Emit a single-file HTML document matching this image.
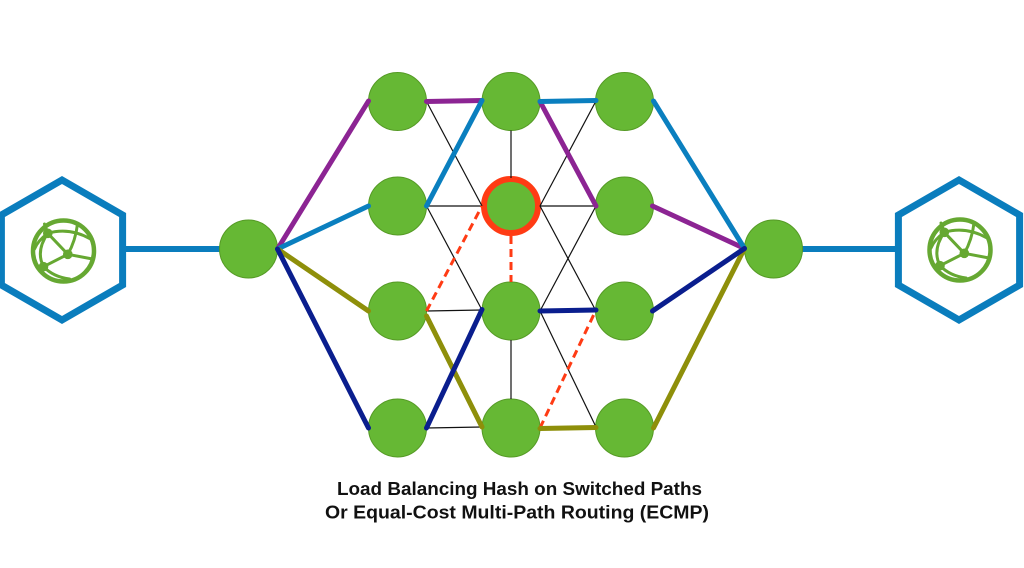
<!DOCTYPE html>
<html>
<head>
<meta charset="utf-8">
<style>
html,body{margin:0;padding:0;background:#fff;}
body{width:1024px;height:568px;overflow:hidden;}
svg{display:block;}
</style>
</head>
<body>
<svg width="1024" height="568" viewBox="0 0 1024 568" xmlns="http://www.w3.org/2000/svg">
<rect width="1024" height="568" fill="#ffffff"/>

<!-- hexagons -->
<g fill="none" stroke="#0a7dbd" stroke-width="7" stroke-linejoin="miter">
  <polygon points="62,180 122.6,215 122.6,285 62,320 1.4,285 1.4,215"/>
  <polygon points="959,180 1019.6,215 1019.6,285 959,320 898.4,285 898.4,215"/>
</g>

<!-- globe icons -->
<g transform="translate(63.5,251)">
  <g fill="none" stroke="#66a832" stroke-linecap="round">
    <circle cx="0" cy="0" r="30.5" stroke-width="4.5"/>
    <path d="M-15.7,-17.7 L-19,-27" stroke-width="3"/>
    <path d="M-15.7,-17.7 Q6,-24 27,-12" stroke-width="3"/>
    <path d="M-15.7,-17.7 L4.3,3.3" stroke-width="3"/>
    <path d="M-15.7,-17.7 Q-26,-10 -29,-2" stroke-width="3"/>
    <path d="M4.3,3.3 Q12,-10 14,-27" stroke-width="3"/>
    <path d="M4.3,3.3 L29,8" stroke-width="3"/>
    <path d="M4.3,3.3 L-20,15.7" stroke-width="3"/>
    <path d="M-20,15.7 Q-10,26 6,28" stroke-width="3"/>
    <path d="M-15.7,-17.7 Q-28,0 -20,15.7" stroke-width="3"/>
  </g>
  <g fill="#66a832">
    <circle cx="-15.7" cy="-17.7" r="4.8"/>
    <circle cx="4.3" cy="3.3" r="4.8"/>
    <circle cx="-20" cy="15.7" r="4.8"/>
  </g>
</g>
<g transform="translate(960,250)">
  <g fill="none" stroke="#66a832" stroke-linecap="round">
    <circle cx="0" cy="0" r="30.5" stroke-width="4.5"/>
    <path d="M-15.7,-17.7 L-19,-27" stroke-width="3"/>
    <path d="M-15.7,-17.7 Q6,-24 27,-12" stroke-width="3"/>
    <path d="M-15.7,-17.7 L4.3,3.3" stroke-width="3"/>
    <path d="M-15.7,-17.7 Q-26,-10 -29,-2" stroke-width="3"/>
    <path d="M4.3,3.3 Q12,-10 14,-27" stroke-width="3"/>
    <path d="M4.3,3.3 L29,8" stroke-width="3"/>
    <path d="M4.3,3.3 L-20,15.7" stroke-width="3"/>
    <path d="M-20,15.7 Q-10,26 6,28" stroke-width="3"/>
    <path d="M-15.7,-17.7 Q-28,0 -20,15.7" stroke-width="3"/>
  </g>
  <g fill="#66a832">
    <circle cx="-15.7" cy="-17.7" r="4.8"/>
    <circle cx="4.3" cy="3.3" r="4.8"/>
    <circle cx="-20" cy="15.7" r="4.8"/>
  </g>
</g>

<!-- hex to node connectors -->
<g stroke="#0a7dbd" stroke-width="6">
  <line x1="126" y1="249" x2="250" y2="249"/>
  <line x1="772" y1="249" x2="896" y2="249"/>
</g>

<!-- nodes -->
<g fill="#66b834" stroke="#559a25" stroke-width="1">
  <circle cx="248.5" cy="249" r="29"/>
  <circle cx="773.5" cy="249" r="29"/>
  <circle cx="397.5" cy="101.5" r="29"/>
  <circle cx="511" cy="101.5" r="29"/>
  <circle cx="624.5" cy="101.5" r="29"/>
  <circle cx="397.5" cy="206" r="29"/>
  <circle cx="624.5" cy="206" r="29"/>
  <circle cx="397.5" cy="311" r="29"/>
  <circle cx="511" cy="311" r="29"/>
  <circle cx="624.5" cy="311" r="29"/>
  <circle cx="397.5" cy="428" r="29"/>
  <circle cx="511" cy="428" r="29"/>
  <circle cx="624.5" cy="428" r="29"/>
</g>
<circle cx="511" cy="206" r="27" fill="#66b834" stroke="#ff3b14" stroke-width="6"/>

<!-- thin black links -->
<g stroke="#111" stroke-width="1.2" fill="none">
  <line x1="426.5" y1="101.5" x2="482" y2="206"/>
  <line x1="426.5" y1="206" x2="482" y2="206"/>
  <line x1="426.5" y1="206" x2="482" y2="310"/>
  <line x1="426.5" y1="311" x2="482" y2="310"/>
  <line x1="426.5" y1="428" x2="482" y2="427"/>
  <line x1="511" y1="130.5" x2="511" y2="178"/>
  <line x1="511" y1="340" x2="511" y2="399"/>
  <line x1="596" y1="101" x2="540" y2="206"/>
  <line x1="540" y1="206" x2="596" y2="206"/>
  <line x1="540" y1="206" x2="596" y2="311"/>
  <line x1="596" y1="206" x2="540" y2="311"/>
  <line x1="540" y1="311" x2="596" y2="427"/>
</g>

<!-- red dashed -->
<g stroke="#ff3b14" stroke-width="3" stroke-dasharray="8,5" fill="none">
  <line x1="426.5" y1="311" x2="482" y2="206"/>
  <line x1="511" y1="236" x2="511" y2="282"/>
  <line x1="540" y1="428" x2="596" y2="310"/>
</g>

<!-- colored thick links -->
<g stroke-width="5" stroke-linecap="round" fill="none">
  <g stroke="#8c2493">
    <line x1="277.5" y1="249" x2="368.5" y2="101"/>
    <line x1="426.5" y1="101.5" x2="482" y2="100.5"/>
    <line x1="540" y1="101.5" x2="596" y2="206"/>
    <line x1="652.5" y1="206" x2="744.5" y2="248.5"/>
  </g>
  <g stroke="#0a7fbf">
    <line x1="277.5" y1="249" x2="368.5" y2="206"/>
    <line x1="426.5" y1="206" x2="482" y2="100.5"/>
    <line x1="540" y1="101.5" x2="596" y2="100.5"/>
    <line x1="653.5" y1="101" x2="744.5" y2="248.5"/>
  </g>
  <g stroke="#8e8f0a">
    <line x1="277.5" y1="249" x2="368.5" y2="311"/>
    <line x1="426.5" y1="316" x2="482" y2="427"/>
    <line x1="540" y1="428.5" x2="596" y2="427.5"/>
    <line x1="653.5" y1="428" x2="744.5" y2="248.5"/>
  </g>
  <g stroke="#0a1e8e">
    <line x1="277.5" y1="249" x2="368.5" y2="428"/>
    <line x1="426.5" y1="428" x2="482" y2="309.5"/>
    <line x1="540" y1="311" x2="596" y2="310"/>
    <line x1="652.5" y1="311" x2="744.5" y2="248.5"/>
  </g>
</g>

<!-- caption -->
<g font-family="'Liberation Sans', sans-serif" font-weight="bold" font-size="18" fill="#111">
  <text x="337" y="495" textLength="365" lengthAdjust="spacingAndGlyphs">Load Balancing Hash on Switched Paths</text>
  <text x="325" y="518.5" textLength="384" lengthAdjust="spacingAndGlyphs">Or Equal-Cost Multi-Path Routing (ECMP)</text>
</g>
</svg>
</body>
</html>
